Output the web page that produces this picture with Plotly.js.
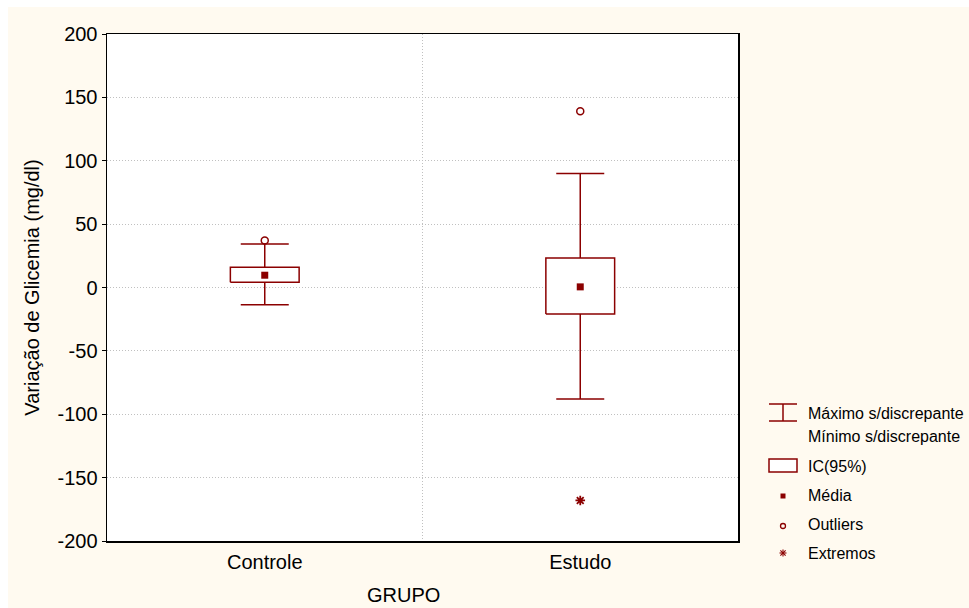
<!DOCTYPE html>
<html>
<head>
<meta charset="utf-8">
<script src="https://cdn.plot.ly/plotly-3.0.1.min.js"></script>
<style>
  html, body { margin: 0; padding: 0; background: #ffffff; }
  #chart { width: 969px; height: 608px; }
</style>
</head>
<body>
<div id="chart"></div>
<script>
// Variação de glicemia por grupo: IC(95%) da média, limites sem discrepantes,
// outliers e extremos.
const groups = ['Controle', 'Estudo'];
const whiskerMax = [34.4, 90];     // Máximo s/discrepante
const whiskerMin = [-13.7, -88];   // Mínimo s/discrepante
const ciLow = [4.2, -21];          // IC(95%) inferior
const ciHigh = [16, 23.3];         // IC(95%) superior
const means = [9.7, 0.5];          // Média
const outlierGroups = ['Controle', 'Estudo'];
const outlierValues = [37, 139];
const extremeGroups = ['Estudo'];
const extremeValues = [-168];
const yTicks = [-200, -150, -100, -50, 0, 50, 100, 150, 200];
const yTickText = ['-200', '-150', '-100', '-50', '0', '50', '100', '150', '200'];

const RED = '#8b0000';
const BOX_HALF = 0.109;   // half width of the CI box, in category units
const CAP_HALF = 24;      // half width of the whisker caps, px
const FONT = 'Liberation Sans, Arial, sans-serif';

const xi = groups.map((g, i) => i);
const pos = name => groups.indexOf(name);

// whiskers: error bars hung from the mean
const whiskers = {
  type: 'scatter', mode: 'markers', x: xi, y: means,
  marker: { size: 1, opacity: 0 },
  error_y: {
    type: 'data', symmetric: false,
    array: whiskerMax.map((v, i) => v - means[i]),
    arrayminus: whiskerMin.map((v, i) => means[i] - v),
    width: CAP_HALF, thickness: 1.5, color: RED
  },
  hoverinfo: 'skip', showlegend: false
};

// CI boxes, white filled so the whisker stem is hidden inside
const bx = [], by = [];
xi.forEach(i => {
  bx.push(i - BOX_HALF, i + BOX_HALF, i + BOX_HALF, i - BOX_HALF, i - BOX_HALF, null);
  by.push(ciLow[i], ciLow[i], ciHigh[i], ciHigh[i], ciLow[i], null);
});
const boxes = {
  type: 'scatter', mode: 'lines', x: bx, y: by, fill: 'toself',
  fillcolor: '#ffffff', line: { color: RED, width: 1.5 },
  hoverinfo: 'skip', showlegend: false
};

const meanPts = {
  type: 'scatter', mode: 'markers', x: xi, y: means,
  marker: { symbol: 'square', size: 7, color: RED },
  name: 'Média', showlegend: false
};
const outPts = {
  type: 'scatter', mode: 'markers', x: outlierGroups.map(pos), y: outlierValues,
  marker: { symbol: 'circle-open', size: 7, color: RED, line: { color: RED, width: 1.5 } },
  name: 'Outliers', showlegend: false
};
const extPts = {
  type: 'scatter', mode: 'markers', x: extremeGroups.map(pos), y: extremeValues,
  marker: { symbol: 'asterisk-open', size: 8, color: RED, line: { color: RED, width: 1.8 } },
  name: 'Extremos', showlegend: false
};

// plot frame in px, used to place the key outside the axes
const L = 107, R = 738, T = 34, B = 541;
const fx = p => (p - L) / (R - L);
const fy = p => (B - p) / (B - T);

const shapes = [
  // white strip along top and left edge
  { type: 'rect', xref: 'paper', yref: 'paper', x0: fx(0), x1: fx(969), y0: fy(7), y1: fy(0),
    fillcolor: '#ffffff', line: { width: 0 }, layer: 'below' },
  { type: 'rect', xref: 'paper', yref: 'paper', x0: fx(0), x1: fx(8), y0: fy(608), y1: fy(0),
    fillcolor: '#ffffff', line: { width: 0 }, layer: 'below' },
  // key: whisker glyph
  { type: 'line', xref: 'paper', yref: 'paper', x0: fx(769), x1: fx(797), y0: fy(404), y1: fy(404), line: { color: RED, width: 1.5 } },
  { type: 'line', xref: 'paper', yref: 'paper', x0: fx(769), x1: fx(797), y0: fy(421), y1: fy(421), line: { color: RED, width: 1.5 } },
  { type: 'line', xref: 'paper', yref: 'paper', x0: fx(783), x1: fx(783), y0: fy(404), y1: fy(421), line: { color: RED, width: 1.5 } },
  // key: CI box
  { type: 'rect', xref: 'paper', yref: 'paper', x0: fx(769), x1: fx(797), y0: fy(472), y1: fy(459),
    fillcolor: '#ffffff', line: { color: RED, width: 1.5 } },
  // key: mean square
  { type: 'rect', xref: 'paper', yref: 'paper', x0: fx(780.5), x1: fx(785.5), y0: fy(498.5), y1: fy(493.5),
    fillcolor: RED, line: { width: 0 } },
  // key: outlier circle
  { type: 'circle', xref: 'paper', yref: 'paper', x0: fx(780.5), x1: fx(785.5), y0: fy(528.5), y1: fy(523.5),
    line: { color: RED, width: 1.3 } },
];
// key: extreme asterisk
[[-3.5, 0, 3.5, 0], [0, -3.5, 0, 3.5], [-2.6, -2.6, 2.6, 2.6], [-2.6, 2.6, 2.6, -2.6]].forEach(d => {
  shapes.push({ type: 'line', xref: 'paper', yref: 'paper',
    x0: fx(783 + d[0]), y0: fy(553 + d[1]), x1: fx(783 + d[2]), y1: fy(553 + d[3]),
    line: { color: RED, width: 1.1 } });
});

const keyText = (txt, ypx) => ({
  text: txt, xref: 'paper', yref: 'paper', x: fx(806), y: fy(ypx),
  xanchor: 'left', yanchor: 'middle', showarrow: false,
  font: { family: FONT, size: 16, color: '#000' }
});

const annotations = [
  keyText('Máximo s/discrepante', 413),
  keyText('Mínimo s/discrepante', 436),
  keyText('IC(95%)', 466),
  keyText('Média', 495),
  keyText('Outliers', 524),
  keyText('Extremos', 553),
  { text: 'GRUPO', xref: 'paper', yref: 'paper', x: fx(403), y: fy(595),
    xanchor: 'center', yanchor: 'middle', showarrow: false,
    font: { family: FONT, size: 20, color: '#000' } }
];

const layout = {
  width: 969, height: 608,
  margin: { l: L, r: 969 - R, t: T, b: 608 - B, pad: 0 },
  paper_bgcolor: '#fffaf0',
  plot_bgcolor: '#ffffff',
  font: { family: FONT, size: 20, color: '#000' },
  showlegend: false,
  xaxis: {
    type: 'linear', range: [-0.5, 1.5],
    tickmode: 'array', tickvals: xi, ticktext: groups,
    ticks: '', showgrid: false, zeroline: false,
    showline: true, mirror: true, linecolor: '#000', linewidth: 1.5,
    ticklabelstandoff: 2,
    minor: { tickmode: 'array', tickvals: [0.5], showgrid: true, gridcolor: '#c0c0c0', griddash: '1px,2px', gridwidth: 1, ticks: '' },
    tickfont: { family: FONT, size: 20 }
  },
  yaxis: {
    range: [-200, 200], tickmode: 'array', tickvals: yTicks, ticktext: yTickText,
    ticks: 'outside', ticklen: 4, tickcolor: '#000', tickwidth: 1,
    showgrid: true, gridcolor: '#c0c0c0', griddash: '1px,2px', gridwidth: 1,
    zeroline: false, showline: true, mirror: true, linecolor: '#000', linewidth: 1.5,
    tickfont: { family: FONT, size: 20 },
    title: { text: 'Variação de Glicemia (mg/dl)', font: { family: FONT, size: 20 }, standoff: 12 }
  },
  shapes: shapes,
  annotations: annotations
};

Plotly.newPlot('chart', [whiskers, boxes, meanPts, outPts, extPts], layout, { displayModeBar: false, staticPlot: true });
</script>
</body>
</html>
